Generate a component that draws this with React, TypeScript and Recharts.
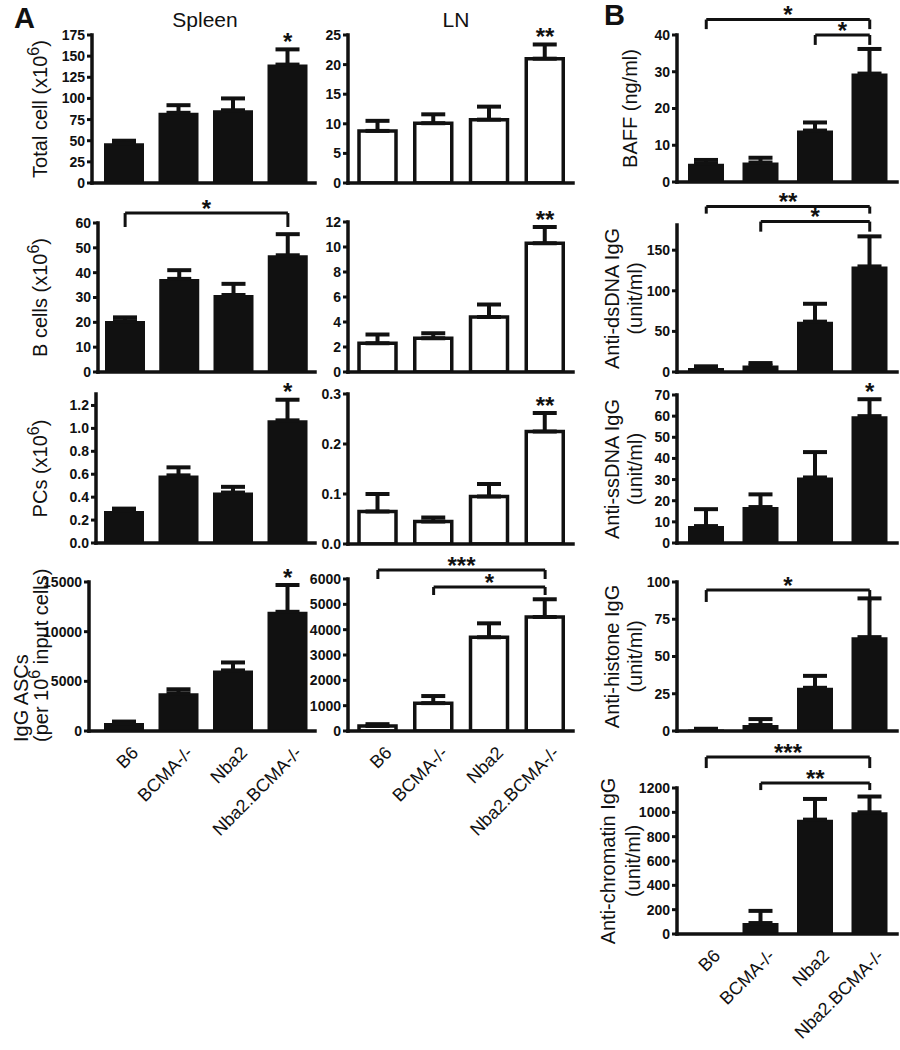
import React from 'react';
import { BarChart, Bar, XAxis, YAxis, ErrorBar, ReferenceLine, ReferenceDot } from 'recharts';

const FONT = '"Liberation Sans", Arial, Helvetica, sans-serif';
const INK = '#111';
const STAR_FS = 24;

const groups = ['B6', 'BCMA-/-', 'Nba2', 'Nba2.BCMA-/-'];

// spleen
const spleenTotal = [47, 83, 86, 140];
const spleenTotalErr = [3, 9, 14, 18];
const spleenTotalSig = ['', '', '', '*'];
const spleenB = [20.5, 37.5, 31, 47];
const spleenBErr = [1.5, 3.5, 4.5, 8.5];
const spleenPC = [0.28, 0.59, 0.44, 1.07];
const spleenPCErr = [0.02, 0.07, 0.05, 0.18];
const spleenPCSig = ['', '', '', '*'];
const spleenASC = [800, 3800, 6100, 12000];
const spleenASCErr = [150, 400, 800, 2700];
const spleenASCSig = ['', '', '', '*'];

// lymph node
const lnTotal = [8.8, 10.1, 10.7, 21];
const lnTotalErr = [1.7, 1.5, 2.2, 2.4];
const lnTotalSig = ['', '', '', '**'];
const lnB = [2.3, 2.7, 4.4, 10.3];
const lnBErr = [0.7, 0.4, 1.0, 1.3];
const lnBSig = ['', '', '', '**'];
const lnPC = [0.065, 0.045, 0.095, 0.225];
const lnPCErr = [0.035, 0.008, 0.025, 0.037];
const lnPCSig = ['', '', '', '**'];
const lnASC = [200, 1100, 3700, 4500];
const lnASCErr = [70, 280, 550, 700];

// serum
const baff = [5, 5.3, 14, 29.5];
const baffErr = [1, 1.3, 2.2, 6.7];
const dsDNA = [5, 8, 62, 130];
const dsDNAErr = [2, 3, 22, 37];
const ssDNA = [8, 17, 31, 60];
const ssDNAErr = [8, 6, 12, 8];
const ssDNASig = ['', '', '', '*'];
const histone = [1, 4, 29, 63];
const histoneErr = [0.5, 4, 8, 26];
const chromatin = [0, 90, 940, 1000];
const chromatinErr = [0, 100, 170, 130];

type Bracket = { from: string; to: string; level: number; foot: number; sig: string };

const spleenBBrackets: Bracket[] = [{ from: 'B6', to: 'Nba2.BCMA-/-', level: 64, foot: 58.4, sig: '*' }];
const lnASCBrackets: Bracket[] = [
  { from: 'B6', to: 'Nba2.BCMA-/-', level: 6356, foot: 6000, sig: '***' },
  { from: 'BCMA-/-', to: 'Nba2.BCMA-/-', level: 5685, foot: 5369, sig: '*' },
];
const baffBrackets: Bracket[] = [
  { from: 'B6', to: 'Nba2.BCMA-/-', level: 44.2, foot: 41.6, sig: '*' },
  { from: 'Nba2', to: 'Nba2.BCMA-/-', level: 40, foot: 37.3, sig: '*' },
];
const dsDNABrackets: Bracket[] = [
  { from: 'B6', to: 'Nba2.BCMA-/-', level: 203.7, foot: 195, sig: '**' },
  { from: 'BCMA-/-', to: 'Nba2.BCMA-/-', level: 185.2, foot: 172.8, sig: '*' },
];
const histoneBrackets: Bracket[] = [{ from: 'B6', to: 'Nba2.BCMA-/-', level: 94.6, foot: 86.6, sig: '*' }];
const chromatinBrackets: Bracket[] = [
  { from: 'B6', to: 'Nba2.BCMA-/-', level: 1454, foot: 1364, sig: '***' },
  { from: 'BCMA-/-', to: 'Nba2.BCMA-/-', level: 1241, foot: 1183, sig: '**' },
];

const starAt = (cx: number, cy: number, s: string) => (
  <text x={cx} y={cy + STAR_FS * 0.57} textAnchor="middle" fontSize={STAR_FS} fontWeight="bold" fontFamily={FONT} fill={INK}>
    {s}
  </text>
);

// "x10^6^)" -> superscript 6
const Rich = ({ s }: { s: string }) => {
  const parts = s.split('^');
  return (
    <>
      {parts.map((t, i) =>
        i % 2 ? <tspan key={i} dy={-7} fontSize={16}>{t}</tspan> : <tspan key={i} dy={i ? 7 : 0}>{t}</tspan>
      )}
    </>
  );
};

type PanelCfg = {
  values: number[]; errors: number[]; sig?: string[]; brackets?: Bracket[];
  domain: [number, number]; ticks: number[]; digits?: number;
  chartLeft: number; left: number; right: number; top: number; bottom: number; pad?: number;
  hollow?: boolean; barSize: number; showX?: boolean;
  title?: { lines: string[]; xs: number[]; start?: number };
};

function Panel({ cfg }: { cfg: PanelCfg }) {
  const MT = 60;
  const MR = 2;
  const MB = cfg.showX ? Math.min(130, 1048 - cfg.bottom) : 12;
  const data = groups.map((g, i) => ({ g, v: cfg.values[i], e: [0, cfg.errors[i]] }));
  const fmt = (v: number) => (cfg.digits ? v.toFixed(cfg.digits) : String(v));
  const axisStyle = { stroke: INK, strokeWidth: 3.5, strokeLinecap: 'square' as const };
  const midY = (cfg.top + cfg.bottom) / 2;

  const bracketEls = (cfg.brackets || []).flatMap((b, k) => [
    <ReferenceLine key={`h${k}`} segment={[{ x: b.from, y: b.level }, { x: b.to, y: b.level }]}
      stroke={INK} strokeWidth={3} ifOverflow="visible"
      label={{ content: (lp: any) => starAt(lp.viewBox.x + lp.viewBox.width / 2, lp.viewBox.y - 10, b.sig) }} />,
    <ReferenceLine key={`l${k}`} segment={[{ x: b.from, y: b.level }, { x: b.from, y: b.foot }]}
      stroke={INK} strokeWidth={3} ifOverflow="visible" />,
    <ReferenceLine key={`r${k}`} segment={[{ x: b.to, y: b.level }, { x: b.to, y: b.foot }]}
      stroke={INK} strokeWidth={3} ifOverflow="visible" />,
  ]);

  const starEls = (cfg.sig || []).map((s, i) =>
    s ? (
      <ReferenceDot key={`s${i}`} x={groups[i]} y={cfg.values[i] + cfg.errors[i]} r={0} fill="none" stroke="none"
        ifOverflow="visible" label={{ content: (lp: any) => starAt(lp.viewBox.x, lp.viewBox.y - 13, s) }} />
    ) : null
  );

  return (
    <>
      <div style={{ position: 'absolute', left: cfg.chartLeft, top: cfg.top - MT }}>
        <BarChart width={cfg.right - cfg.chartLeft + MR} height={MT + cfg.bottom - cfg.top + MB} data={data}
          margin={{ top: MT, right: MR, bottom: 0, left: 0 }}>
          <XAxis dataKey="g" height={MB} interval={0} padding={{ left: cfg.pad ?? 0, right: 0 }}
            axisLine={axisStyle} tickLine={false} tickSize={0} tickMargin={0}
            angle={-45} textAnchor="end" dx={6} dy={14}
            tick={cfg.showX ? { fontSize: 18, fill: INK, fontFamily: FONT } : false} />
          <YAxis width={cfg.left - cfg.chartLeft} type="number" domain={cfg.domain} ticks={cfg.ticks}
            interval={0} allowDataOverflow tickFormatter={fmt} axisLine={axisStyle}
            tickLine={{ stroke: INK, strokeWidth: 3 }} tickSize={5} tickMargin={2}
            tick={{ fontSize: 14, fontWeight: 'bold', fill: INK, fontFamily: FONT }} />
          <Bar dataKey="v" barSize={cfg.barSize} fill={cfg.hollow ? '#fff' : INK}
            stroke={cfg.hollow ? INK : 'none'} strokeWidth={3.5} isAnimationActive={false}>
            <ErrorBar dataKey="e" width={12} stroke={INK} strokeWidth={4} />
          </Bar>
          {bracketEls}
          {starEls}
        </BarChart>
      </div>
      {cfg.title && (
        <svg width={900} height={1050} style={{ position: 'absolute', left: 0, top: 0, pointerEvents: 'none', overflow: 'visible' }}>
          {cfg.title.lines.map((line, i) => {
            const x = cfg.title!.xs[i];
            const y = cfg.title!.start ?? midY;
            return (
              <text key={i} transform={`translate(${x},${y}) rotate(-90)`}
                textAnchor={cfg.title!.start ? 'start' : 'middle'} dominantBaseline="central"
                fontSize={20} fontFamily={FONT} fill={INK}>
                <Rich s={line} />
              </text>
            );
          })}
        </svg>
      )}
    </>
  );
}

const range = (a: number, b: number, s: number) => {
  const out: number[] = [];
  for (let v = a; v <= b + 1e-9; v += s) out.push(Math.round(v * 1000) / 1000);
  return out;
};

export default function App() {
  const spleen = { chartLeft: 0, right: 315, barSize: 40 };
  const ln = { chartLeft: 300, left: 348, right: 573, barSize: 37, hollow: true, pad: 2 };
  const serum = { chartLeft: 636, left: 677, right: 897, barSize: 36, pad: 2 };

  const panels: PanelCfg[] = [
    { ...spleen, values: spleenTotal, errors: spleenTotalErr, sig: spleenTotalSig, domain: [0, 175], ticks: range(0, 175, 25),
      left: 92, top: 35, bottom: 183, pad: 5, title: { lines: ['Total cell (x10^6^)'], xs: [40] } },
    { ...spleen, values: spleenB, errors: spleenBErr, brackets: spleenBBrackets, domain: [0, 60], ticks: range(0, 60, 10),
      left: 98, top: 223, bottom: 372, pad: 0, title: { lines: ['B cells (x10^6^)'], xs: [40] } },
    { ...spleen, values: spleenPC, errors: spleenPCErr, sig: spleenPCSig, domain: [0, 1.3], ticks: range(0, 1.2, 0.2), digits: 1,
      left: 96, top: 394, bottom: 543, pad: 1, title: { lines: ['PCs (x10^6^)'], xs: [40] } },
    { ...spleen, values: spleenASC, errors: spleenASCErr, sig: spleenASCSig, domain: [0, 15000], ticks: range(0, 15000, 5000),
      left: 89, top: 582, bottom: 731, pad: 8, showX: true,
      title: { lines: ['IgG ASCs', '(per 10^6^ input cells)'], xs: [21, 41], start: 742 } },

    { ...ln, values: lnTotal, errors: lnTotalErr, sig: lnTotalSig, domain: [0, 25], ticks: range(0, 25, 5), top: 35, bottom: 183 },
    { ...ln, values: lnB, errors: lnBErr, sig: lnBSig, domain: [0, 12], ticks: range(0, 12, 2), top: 222, bottom: 372 },
    { ...ln, values: lnPC, errors: lnPCErr, sig: lnPCSig, domain: [0, 0.3], ticks: range(0, 0.3, 0.1), digits: 1, top: 394, bottom: 544 },
    { ...ln, values: lnASC, errors: lnASCErr, brackets: lnASCBrackets, domain: [0, 6000], ticks: range(0, 6000, 1000),
      top: 579, bottom: 731, showX: true },

    { ...serum, values: baff, errors: baffErr, brackets: baffBrackets, domain: [0, 40], ticks: range(0, 40, 10),
      top: 35, bottom: 182, title: { lines: ['BAFF (ng/ml)'], xs: [630] } },
    { ...serum, values: dsDNA, errors: dsDNAErr, brackets: dsDNABrackets, domain: [0, 181], ticks: [0, 50, 100, 150],
      top: 225, bottom: 372, title: { lines: ['Anti-dsDNA IgG', '(unit/ml)'], xs: [612, 635] } },
    { ...serum, values: ssDNA, errors: ssDNAErr, sig: ssDNASig, domain: [0, 70], ticks: range(0, 70, 10),
      top: 395, bottom: 543, title: { lines: ['Anti-ssDNA IgG', '(unit/ml)'], xs: [612, 635] } },
    { ...serum, values: histone, errors: histoneErr, brackets: histoneBrackets, domain: [0, 100], ticks: range(0, 100, 25),
      top: 582, bottom: 731, title: { lines: ['Anti-histone IgG', '(unit/ml)'], xs: [612, 635] } },
    { ...serum, values: chromatin, errors: chromatinErr, brackets: chromatinBrackets, domain: [0, 1200], ticks: range(0, 1200, 200),
      top: 788, bottom: 934, showX: true, title: { lines: ['Anti-chromatin IgG', '(unit/ml)'], xs: [608, 633] } },
  ];

  return (
    <div style={{ position: 'absolute', left: 0, top: 0, width: 900, height: 1050, overflow: 'hidden', background: '#fff' }}>
      <svg width={900} height={1050} style={{ position: 'absolute', left: 0, top: 0 }}>
        <text x={14} y={28} fontSize={29} fontWeight="bold" fontFamily={FONT} fill={INK}>A</text>
        <text x={205} y={27} textAnchor="middle" fontSize={21} fontFamily={FONT} fill={INK}>Spleen</text>
        <text x={456} y={27} textAnchor="middle" fontSize={21} fontFamily={FONT} fill={INK}>LN</text>
        <text x={604} y={25} fontSize={29} fontWeight="bold" fontFamily={FONT} fill={INK}>B</text>
      </svg>
      {panels.map((cfg, i) => <Panel key={i} cfg={cfg} />)}
    </div>
  );
}
